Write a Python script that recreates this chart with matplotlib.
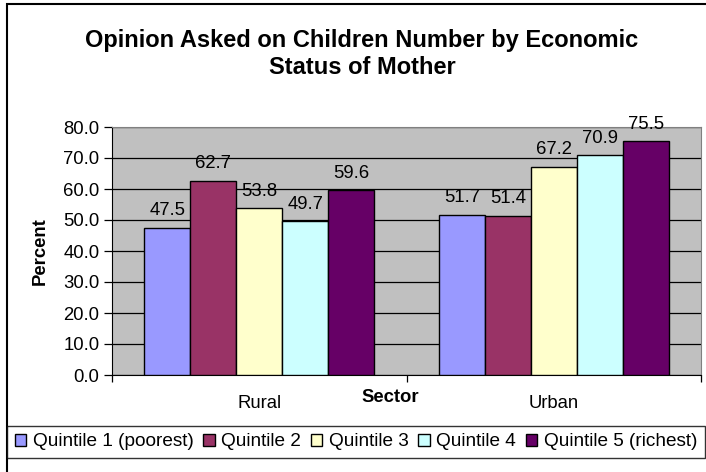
import matplotlib
matplotlib.use("Agg")
import matplotlib.pyplot as plt
from matplotlib.patches import Rectangle
import numpy as np

plt.rcParams['font.family'] = ['Liberation Sans', 'DejaVu Sans']

sectors = ["Rural", "Urban"]
quintiles = ["Quintile 1 (poorest)", "Quintile 2", "Quintile 3", "Quintile 4", "Quintile 5 (richest)"]
q1 = [47.5, 51.7]
q2 = [62.7, 51.4]
q3 = [53.8, 67.2]
q4 = [49.7, 70.9]
q5 = [59.6, 75.5]
colors = ["#9999FF", "#993366", "#FFFFCC", "#CCFFFF", "#660066"]
yticks = np.arange(0, 81, 10)

W, H = 706, 472
fs = 13.3
fig = plt.figure(figsize=(W / 100, H / 100), dpi=100)

# outer chart frame (runs off right/bottom edge like the original)
fig.patches.append(Rectangle((7 / W, -0.1), 1.2, 1 - 4 / H + 0.1, transform=fig.transFigure,
                             fill=False, edgecolor="black", linewidth=1.5))

ax = fig.add_axes([112 / W, 1 - 375 / H, (701 - 112) / W, (375 - 127) / H])
ax.set_facecolor("#C0C0C0")

x = np.arange(len(sectors))
bw = 0.156
series = [q1, q2, q3, q4, q5]
handles = []
for i, vals in enumerate(series):
    pos = x + (i - 2) * bw
    b = ax.bar(pos, vals, bw, color=colors[i], edgecolor="black", linewidth=1.0, zorder=3,
               label=quintiles[i])
    handles.append(b)
    for p, v in zip(pos, vals):
        ax.annotate(f"{v:.1f}", (p, v), xytext=(0, 6), textcoords="offset points",
                    ha="center", va="bottom", fontsize=fs, zorder=4)

ax.set_xlim(-0.5, 1.5)
ax.set_ylim(0, 80)
ax.set_yticks(yticks)
ax.set_yticklabels([f"{t:.1f}" for t in yticks], fontsize=fs)
ax.yaxis.grid(True, color="black", linewidth=0.9, zorder=0)
ax.set_axisbelow(True)
ax.tick_params(axis="y", direction="out", length=6, width=0.9, pad=3)

ax.set_xticks([-0.5, 0.5, 1.5])
ax.set_xticklabels([])
ax.tick_params(axis="x", direction="out", length=5, width=0.9)
for i, s in enumerate(sectors):
    ax.text(x[i], -0.113, s, transform=ax.get_xaxis_transform(), ha="center", va="center",
            fontsize=fs)

for side in ["top", "right"]:
    ax.spines[side].set_color("#808080")
ax.spines["left"].set_color("black")
ax.spines["bottom"].set_color("black")

fig.text(362 / W, 1 - 54 / H, "Opinion Asked on Children Number by Economic\nStatus of Mother",
         ha="center", va="center", fontsize=17, fontweight="bold", linespacing=1.2)
fig.text(390 / W, 1 - 397 / H, "Sector", ha="center", va="center", fontsize=fs, fontweight="bold")
fig.text(40 / W, 1 - 251 / H, "Percent", ha="center", va="center", fontsize=fs,
         fontweight="bold", rotation=90)

leg = fig.legend(handles=handles, loc="center", bbox_to_anchor=(356 / W, 1 - 442 / H), ncol=5,
                 fontsize=13.7, frameon=True, fancybox=False, handlelength=0.6, handleheight=0.6,
                 handletextpad=0.35, columnspacing=0.5, borderpad=0.4, borderaxespad=0)
leg.get_frame().set_edgecolor("black")
leg.get_frame().set_linewidth(1.0)

fig.savefig("out.png", dpi=100)
